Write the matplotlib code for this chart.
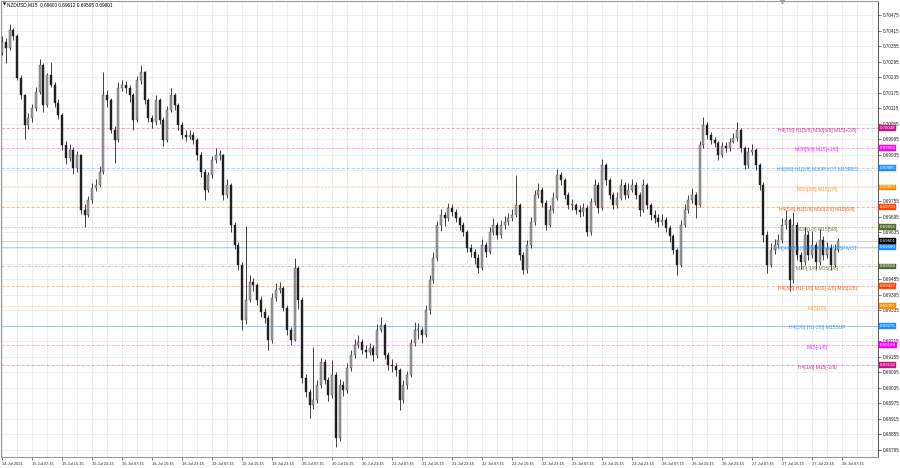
import matplotlib
matplotlib.use("Agg")
import matplotlib.pyplot as plt
import matplotlib.transforms as mtransforms
import numpy as np

# ---------------- data (prices in points, 1 point = 0.00001) ----------------
first_open_points = 70330
close_points = [
    70371, 70348, 70417, 70394, 70232, 70166, 70050, 70077, 70116, 70178,
    70282, 70128, 70243, 70205, 70135, 70089, 69973, 69923, 69954, 69884,
    69935, 69722, 69703, 69761, 69807, 69819, 69869, 70166, 70147, 70031,
    69992, 70193, 70205, 70193, 70166, 70070, 70224, 70255, 70147, 70077,
    70062, 70147, 70070, 69992, 70108, 70166, 70128, 70050, 70012, 70004,
    70012, 69992, 69935, 69869, 69800, 69857, 69915, 69935, 69935, 69780,
    69819, 69664, 69587, 69510, 69298, 69375, 69444, 69433, 69375, 69329,
    69306, 69221, 69383, 69414, 69421, 69344, 69259, 69221, 69498, 69375,
    69074, 69020, 68970, 68989, 69047, 69136, 69066, 69008, 69085, 68842,
    69047, 69028, 69112, 69163, 69201, 69213, 69182, 69174, 69190, 69163,
    69259, 69278, 69163, 69124, 69120, 69105, 68989, 69047, 69085, 69209,
    69259, 69259, 69240, 69336, 69452, 69537, 69664, 69703, 69691, 69730,
    69715, 69691, 69664, 69637, 69576, 69560, 69537, 69498, 69587, 69560,
    69637, 69664, 69626, 69664, 69676, 69691, 69703, 69742, 69549, 69491,
    69587, 69676, 69780, 69800, 69749, 69664, 69722, 69769, 69857, 69838,
    69780, 69742, 69742, 69722, 69715, 69730, 69637, 69753, 69819, 69730,
    69896, 69838, 69780, 69742, 69769, 69819, 69780, 69800, 69819, 69780,
    69722, 69819, 69742, 69703, 69691, 69676, 69684, 69653, 69622, 69568,
    69510, 69664, 69722, 69761, 69780, 69742, 69973, 70050, 70012, 69992,
    69981, 69935, 69969, 69962, 69985, 70000, 70031, 69962, 69896, 69946,
    69954, 69896, 69819, 69626, 69510, 69568, 69587, 69607, 69664, 69684,
    69452, 69664, 69549, 69522, 69626, 69549, 69587, 69522, 69607, 69549,
    69576, 69510, 69568, 69601]
high_points = [
    70395, 70385, 70440, 70425, 70400, 70245, 70170, 70095, 70130, 70195,
    70305, 70290, 70250, 70295, 70215, 70150, 70095, 69990, 69975, 69965,
    69950, 69940, 69745, 69775, 69825, 69840, 69890, 70255, 70185, 70155,
    70045, 70215, 70225, 70220, 70205, 70175, 70240, 70282, 70260, 70155,
    70090, 70165, 70155, 70080, 70125, 70193, 70175, 70135, 70060, 70030,
    70030, 70025, 70000, 69945, 69880, 69870, 69930, 69960, 69955, 69940,
    69840, 69825, 69675, 69600, 69520, 69660, 69470, 69460, 69440, 69390,
    69345, 69315, 69400, 69440, 69445, 69430, 69355, 69270, 69537, 69505,
    69385, 69090, 69030, 69194, 69065, 69150, 69145, 69075, 69143, 69095,
    69070, 69060, 69130, 69180, 69225, 69240, 69225, 69200, 69210, 69200,
    69280, 69310, 69285, 69175, 69145, 69130, 69110, 69065, 69100, 69225,
    69290, 69285, 69270, 69355, 69470, 69560, 69680, 69725, 69715, 69750,
    69745, 69725, 69700, 69675, 69645, 69590, 69570, 69550, 69610, 69600,
    69655, 69690, 69675, 69685, 69700, 69710, 69725, 69857, 69750, 69560,
    69605, 69695, 69800, 69825, 69810, 69760, 69740, 69790, 69880, 69870,
    69845, 69790, 69765, 69750, 69740, 69750, 69740, 69770, 69840, 69830,
    69920, 69905, 69845, 69790, 69790, 69840, 69830, 69825, 69840, 69830,
    69790, 69840, 69825, 69750, 69720, 69705, 69705, 69695, 69665, 69630,
    69575, 69685, 69745, 69780, 69805, 69790, 69990, 70080, 70060, 70025,
    70005, 69990, 69985, 69985, 70000, 70020, 70060, 70040, 69970, 69965,
    69975, 69960, 69905, 69830, 69640, 69595, 69610, 69630, 69690, 69722,
    69690, 69715, 69675, 69560, 69655, 69640, 69640, 69600, 69650, 69620,
    69600, 69590, 69590, 69612]
low_points = [
    70320, 70290, 70340, 70380, 70225, 70150, 69995, 70035, 70060, 70105,
    70170, 70100, 70120, 70195, 70120, 70075, 69955, 69900, 69910, 69860,
    69870, 69705, 69656, 69695, 69750, 69795, 69810, 69860, 70120, 70020,
    69904, 69985, 70180, 70175, 70140, 70031, 70060, 70210, 70130, 70060,
    70040, 70050, 70055, 69970, 69985, 70100, 70110, 70030, 69995, 69990,
    69995, 69975, 69915, 69850, 69760, 69790, 69845, 69905, 69915, 69760,
    69770, 69635, 69570, 69490, 69259, 69280, 69365, 69410, 69355, 69310,
    69285, 69182, 69210, 69370, 69400, 69330, 69240, 69200, 69215, 69340,
    69055, 69000, 68920, 68955, 68975, 69035, 69050, 68985, 68995, 68808,
    68830, 69005, 69015, 69100, 69150, 69190, 69165, 69150, 69160, 69140,
    69150, 69250, 69145, 69105, 69095, 69080, 68950, 68975, 69030, 69075,
    69195, 69225, 69210, 69230, 69320, 69440, 69525, 69640, 69660, 69680,
    69700, 69675, 69645, 69620, 69560, 69540, 69515, 69480, 69490, 69540,
    69550, 69625, 69610, 69615, 69650, 69665, 69680, 69695, 69530, 69475,
    69480, 69575, 69665, 69770, 69735, 69645, 69655, 69710, 69760, 69820,
    69765, 69725, 69720, 69705, 69695, 69700, 69620, 69625, 69740, 69710,
    69720, 69820, 69765, 69725, 69730, 69760, 69765, 69770, 69790, 69765,
    69700, 69715, 69725, 69685, 69670, 69655, 69665, 69635, 69600, 69550,
    69470, 69500, 69655, 69710, 69750, 69690, 69735, 69960, 69995, 69975,
    69965, 69915, 69925, 69945, 69950, 69980, 69990, 69945, 69880, 69885,
    69935, 69875, 69800, 69600, 69480, 69500, 69550, 69575, 69595, 69650,
    69410, 69440, 69530, 69495, 69510, 69530, 69535, 69495, 69510, 69530,
    69535, 69490, 69500, 69560]

time_labels = ["14 Jul 2021",
               "15 Jul 07:15", "15 Jul 15:15", "15 Jul 23:15",
               "16 Jul 07:15", "16 Jul 15:15", "16 Jul 23:15",
               "19 Jul 07:15", "19 Jul 15:15", "19 Jul 23:15",
               "20 Jul 07:15", "20 Jul 15:15", "20 Jul 23:15",
               "21 Jul 07:15", "21 Jul 15:15", "21 Jul 23:15",
               "22 Jul 07:15", "22 Jul 15:15", "22 Jul 23:15",
               "23 Jul 07:15", "23 Jul 15:15", "23 Jul 23:15",
               "26 Jul 07:15", "26 Jul 15:15", "26 Jul 23:15",
               "27 Jul 07:15", "27 Jul 15:15", "27 Jul 23:15",
               "28 Jul 07:15"]

level_prices = [0.70038, 0.69962, 0.69885, 0.69809, 0.69733, 0.69656, 0.69580,
                0.69504, 0.69427, 0.69351, 0.69275, 0.69199, 0.69122]
level_texts = ["H4[7/8] H1[5/8] M30[6/8] M15[+2/8]",
               "M30[5/8] M15[+1/8]",
               "H4[6/8] H1[2/8] M30PIVOT M15RES",
               "M30[3/8] M15[7/8]",
               "H4[5/8] H1[1/8] M30[2/8] M15[6/8]",
               "M30[1/8] M15[5/8]",
               "H4[4/8] H1[0/8] M30SUP M15PIVOT",
               "M30[-1/8] M15[3/8]",
               "H4[3/8] H1[-1/8] M30[-2/8] M15[2/8]",
               "M15[1/8]",
               "H4[2/8] H1[-2/8] M15SUP",
               "M15[-1/8]",
               "H4[1/8] M15[-2/8]"]
level_colors = ["#C71585", "#FF00FF", "#1E90FF", "#FF8C00", "#FF4500", "#556B2F",
                "#1E90FF", "#556B2F", "#FF4500", "#FF8C00", "#1E90FF", "#FF00FF",
                "#C71585"]
level_styles = [(0, (4, 2)), (0, (4, 2)), (0, (4, 2)), (0, (2, 2)), (0, (4, 2)),
                (0, (2, 2)), "-", (0, (3, 2, 1, 2)), (0, (4, 2)), (0, (2, 2)), "-",
                (0, (4, 2)), (0, (4, 2))]

bid_price = 0.69601
header = "NZDUSD,M15  0.69600 0.69612 0.69595 0.69601"

# ---------------- figure ----------------
W, H = 900, 468
fig = plt.figure(figsize=(W / 100, H / 100), dpi=100)
fig.patch.set_facecolor("white")
ax = fig.add_axes([1 / W, 11 / H, 877 / W, 456 / H])
ax.set_facecolor("white")

close = np.array(close_points) / 1e5
high = np.array(high_points) / 1e5
low = np.array(low_points) / 1e5
opens = np.concatenate([[first_open_points / 1e5], close[:-1]])
n = len(close)
x = np.arange(n)

xmax = -0.3 + 877 / 3.75
ax.set_xlim(-0.3, xmax)
ax.set_ylim(0.687678, 0.705291)

FONT = ["Liberation Sans", "DejaVu Sans"]

# grid
yticks = np.round(np.arange(0.68795, 0.704751, 0.0006), 5)
for yv in yticks:
    ax.axhline(yv, color="#ebebeb", lw=0.6, zorder=0)
for xv in np.arange(0, xmax, 4):
    ax.axvline(xv, color="#ebebeb", lw=0.6, zorder=0)

# levels
lab_x = (817 - 1) / 3.75 - 0.3
for p, t, c, s in zip(level_prices, level_texts, level_colors, level_styles):
    ax.axhline(p, color=c, lw=0.6, ls=s, alpha=0.42, zorder=1)
    ax.text(lab_x, p - 0.00008, t, color=c, fontsize=3.6, family=FONT,
            ha="center", va="center", zorder=6, alpha=0.85)

ax.axhline(bid_price, color="#cfcfcf", lw=0.6, zorder=1)

# candles
ax.vlines(x, low, high, color="#333333", lw=0.65, zorder=3)
body_lo = np.minimum(opens, close)
body_h = np.maximum(np.abs(close - opens), 0.00002)
bull = close >= opens
ax.bar(x[bull], body_h[bull], bottom=body_lo[bull], width=0.5,
       color="#a0a0a0", edgecolor="#4a4a4a", linewidth=0.3, zorder=4)
ax.bar(x[~bull], body_h[~bull], bottom=body_lo[~bull], width=0.5,
       color="#202020", edgecolor="#202020", linewidth=0.3, zorder=4)

# axes styling: MT4 draws price boxes over the scale, hiding nearby tick labels
box_prices = level_prices + [bid_price]
ytick_labels = []
for v in yticks:
    if min(abs(v - b) for b in box_prices) < 0.00014:
        ytick_labels.append("")
    else:
        ytick_labels.append(f"{v:.5f}")
ax.yaxis.tick_right()
ax.set_yticks(yticks)
ax.set_yticklabels(ytick_labels, fontsize=3.3, family=FONT, color="#222222")
ax.tick_params(axis="y", length=2, width=0.5, pad=1.2, colors="#444444", labelcolor="#222222")
xt = np.arange(0, 8 * len(time_labels), 8)
ax.set_xticks(xt)
ax.set_xticklabels(time_labels, fontsize=2.9, family=FONT, color="#222222", ha="left")
ax.tick_params(axis="x", length=2, width=0.5, pad=1.5, colors="#444444", labelcolor="#222222")
for sp in ax.spines.values():
    sp.set_color("#9a9a9a")
    sp.set_linewidth(0.8)
ax.spines["right"].set_color("#606060")

# price boxes on the right axis
trans = mtransforms.blended_transform_factory(ax.transAxes, ax.transData)
for p, c in zip(level_prices, level_colors):
    ax.text(1.0 + 1.5 / 877, p, f"{p:.5f}", transform=trans, fontsize=3.2, family=FONT,
            color="white", ha="left", va="center", zorder=10, clip_on=False,
            bbox=dict(boxstyle="square,pad=0.2", fc=c, ec=c, lw=0.3))
ax.text(1.0 + 1.5 / 877, bid_price, f"{bid_price:.5f}", transform=trans, fontsize=3.2,
        family=FONT, color="white", ha="left", va="center", zorder=11, clip_on=False,
        bbox=dict(boxstyle="square,pad=0.2", fc="black", ec="black", lw=0.3))

# chart-shift marker on top border
ax.plot([(782 - 1) / 3.75 - 0.3], [0.705291], marker="v", ms=3, color="#a0a0a0",
        clip_on=False, zorder=10)

# header
fig.text(2.5 / W, 1 - 5 / H, "\u25BC", fontsize=3, color="black", va="center", ha="left",
         family=["DejaVu Sans"])
fig.text(7 / W, 1 - 5 / H, header, fontsize=3.4, color="black", va="center", ha="left",
         family=FONT)

fig.savefig("out.png", dpi=100, facecolor="white")
